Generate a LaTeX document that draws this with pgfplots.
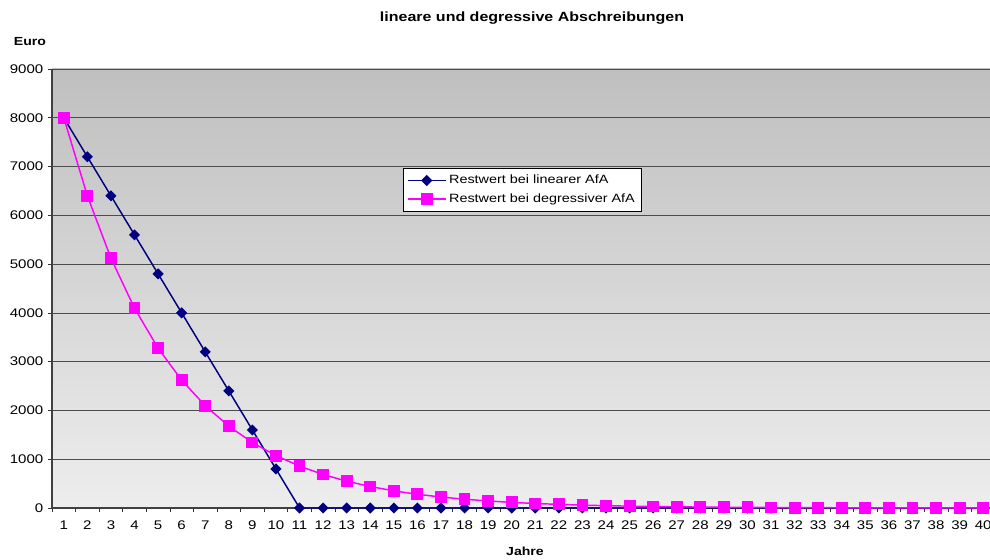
\documentclass[border=0pt]{standalone}
\usepackage{pgfplots}
\pgfplotsset{compat=1.18}
\usepackage{fontspec}
\setmainfont{Liberation Sans}[FakeStretch=1.2]
\definecolor{navyline}{RGB}{0,0,128}
\definecolor{magline}{RGB}{255,0,255}
\begin{document}
\begin{tikzpicture}
\begin{axis}[
  at={(0pt,0pt)}, anchor=south west,
  scale only axis=true,
  width=707.25pt, height=329.25pt,
  xmin=0.5, xmax=40.5, ymin=0, ymax=9000,
  axis x line*=bottom, axis y line*=left,
  axis line style={draw=black!75, line width=0.8pt},
  xtick={1,...,40}, minor xtick={0.5,1.5,...,40.5},
  major x tick style={draw=none},
  minor x tick style={draw=black!80, line width=0.5pt},
  xticklabels={1,2,3,4,5,6,7,8,9,10,11,12,13,14,15,16,17,18,19,20,21,22,23,24,25,26,27,28,29,30,31,32,33,34,35,36,37,38,39,40},
  ytick={0,1000,...,9000},
  tick align=outside,
  major tick length=3pt, minor tick length=3pt,
  ytick style={draw=black!80, line width=0.5pt},
  ymajorgrids=true,
  grid style={draw=black!70, line width=0.5pt},
  xticklabel style={font=\fontsize{9.4}{11}\selectfont, yshift=-3pt},
  yticklabel style={font=\fontsize{9.4}{11}\selectfont},
  /pgf/number format/assume math mode=true,
  /pgf/number format/1000 sep={},
  axis background/.style={top color=black!25, bottom color=black!7},
  legend style={at={(0.372,0.774)}, anchor=north west, draw=black,
    fill=white, font=\fontsize{9}{11}\selectfont, row sep=2pt, inner xsep=3pt, inner ysep=3pt,
    legend image code/.code={\draw[mark repeat=2,mark phase=2,#1] plot coordinates {(0cm,0cm) (0.5cm,0cm) (1cm,0cm)};}},
  legend cell align=left,
  clip=false,
]
\addplot[color=navyline, line width=1.1pt, mark=square*, mark size=2.4pt,
  mark options={fill=navyline, draw=navyline, rotate=45}] coordinates {
(1,8000)(2,7200)(3,6400)(4,5600)(5,4800)(6,4000)(7,3200)(8,2400)(9,1600)(10,800)
(11,0)(12,0)(13,0)(14,0)(15,0)(16,0)(17,0)(18,0)(19,0)(20,0)
(21,0)(22,0)(23,0)(24,0)(25,0)(26,0)(27,0)(28,0)(29,0)(30,0)
(31,0)(32,0)(33,0)(34,0)(35,0)(36,0)(37,0)(38,0)(39,0)(40,0)};
\addlegendentry{Restwert bei linearer AfA}
\addplot[color=magline, line width=1.1pt, mark=square*, mark size=3.9pt,
  mark options={fill=magline, draw=magline}] coordinates {
(1,8000)(2,6400)(3,5120)(4,4096)(5,3277)(6,2621)(7,2097)(8,1678)(9,1342)(10,1074)
(11,859)(12,687)(13,550)(14,440)(15,352)(16,281)(17,225)(18,180)(19,144)(20,115)
(21,92)(22,74)(23,59)(24,47)(25,38)(26,30)(27,24)(28,19)(29,15)(30,12)
(31,10)(32,8)(33,6)(34,5)(35,4)(36,3)(37,3)(38,2)(39,2)(40,1)};
\addlegendentry{Restwert bei degressiver AfA}
\end{axis}
\node[font=\bfseries\fontsize{10}{12}\selectfont] at (360pt,367.5pt) {lineare und degressive Abschreibungen};
\node[font=\bfseries\fontsize{8.8}{10}\selectfont] at (-16.5pt,349.5pt) {Euro};
\node[font=\bfseries\fontsize{8.8}{10}\selectfont] at (354.75pt,-32.25pt) {Jahre};
\pgfresetboundingbox
\path[use as bounding box] (-39pt,-39pt) rectangle (703.5pt,381pt);
\end{tikzpicture}
\end{document}
